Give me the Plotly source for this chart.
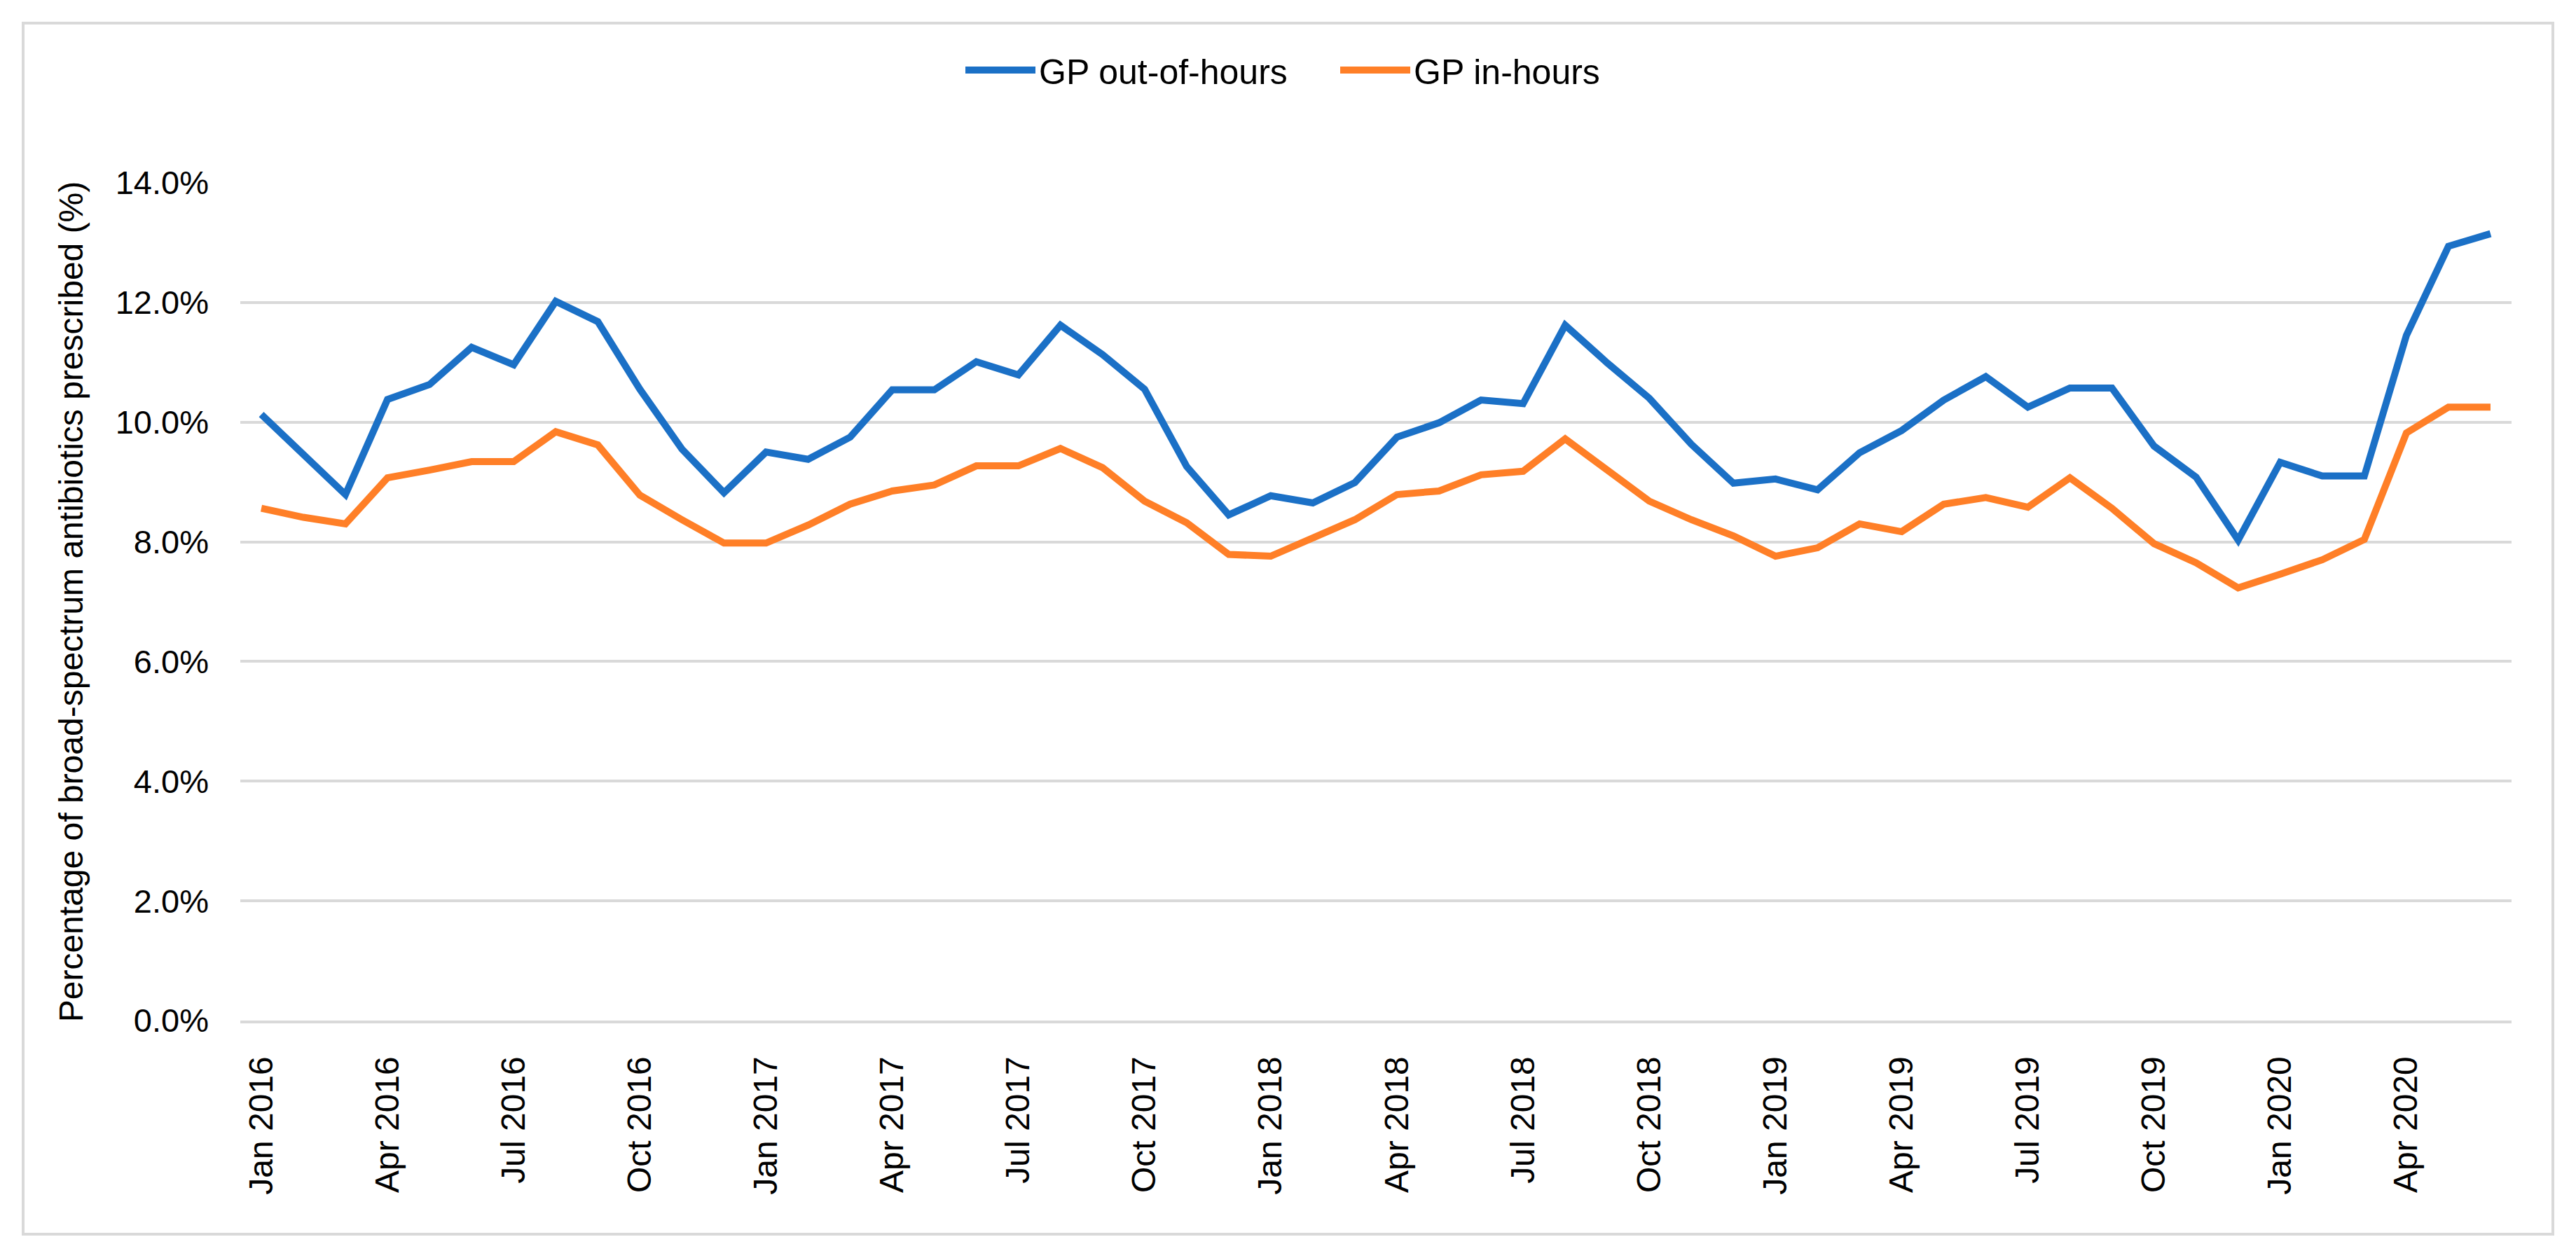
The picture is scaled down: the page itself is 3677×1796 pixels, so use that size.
import plotly.graph_objects as go
import pandas as pd

months = [d.strftime("%b %Y") for d in pd.date_range("2016-01-01", "2020-06-01", freq="MS")]

gp_out_of_hours = [
    10.13, 9.45, 8.79, 10.38, 10.63, 11.25, 10.96, 12.02, 11.68, 10.55, 9.55, 8.82,
    9.50, 9.38, 9.75, 10.54, 10.54, 11.01, 10.79, 11.62, 11.13, 10.55, 9.26, 8.45,
    8.77, 8.65, 8.99, 9.75, 9.99, 10.37, 10.31, 11.62, 10.99, 10.40, 9.63, 8.98,
    9.05, 8.87, 9.49, 9.86, 10.37, 10.76, 10.25, 10.57, 10.57, 9.60, 9.08, 8.03,
    9.33, 9.10, 9.10, 11.45, 12.94, 13.15,
]
gp_in_hours = [
    8.56, 8.41, 8.30, 9.07, 9.20, 9.34, 9.34, 9.84, 9.62, 8.78, 8.37, 7.98,
    7.98, 8.28, 8.63, 8.85, 8.95, 9.27, 9.27, 9.56, 9.24, 8.68, 8.32, 7.79,
    7.76, 8.07, 8.37, 8.79, 8.85, 9.12, 9.18, 9.72, 9.20, 8.68, 8.37, 8.10,
    7.76, 7.90, 8.30, 8.17, 8.63, 8.74, 8.58, 9.07, 8.56, 7.97, 7.65, 7.23,
    7.46, 7.70, 8.04, 9.82, 10.25, 10.25,
]
series_names = ["GP out-of-hours", "GP in-hours"]
series_colors = ["#1B70C6", "#FF7F27"]
y_ticks = [0, 2, 4, 6, 8, 10, 12, 14]
y_title = "Percentage of broad-spectrum antibiotics prescribed (%)"

W, H = 3677, 1796
L, R, T, B = 343, 92, 261, 339
pw, ph = W - L - R, H - T - B
FONT = "Liberation Sans, Arial, sans-serif"

fig = go.Figure()
for name, vals, col in zip(series_names, [gp_out_of_hours, gp_in_hours], series_colors):
    fig.add_trace(go.Scatter(x=months, y=vals, mode="lines", name=name,
                             line=dict(color=col, width=10)))

def px_x(p):
    return (p - L) / pw

def px_y(p):
    return (H - B - p) / ph

fig.update_layout(
    width=W, height=H,
    margin=dict(l=L, r=R, t=T, b=B, pad=0),
    paper_bgcolor="white", plot_bgcolor="white",
    font=dict(family=FONT, size=48, color="black"),
    showlegend=True,
    legend=dict(orientation="h", x=px_x(1373), xanchor="left", y=px_y(100), yanchor="middle",
                font=dict(size=50, family=FONT), itemwidth=100, traceorder="normal",
                entrywidth=420, entrywidthmode="pixels",
                bgcolor="rgba(0,0,0,0)"),
    xaxis=dict(type="category", range=[-0.5, len(months) - 0.5],
               tickmode="array", tickvals=months[::3], ticktext=months[::3],
               tickangle=-90, ticks="", showgrid=False, showline=True,
               linecolor="#D9D9D9", linewidth=4, zeroline=False,
               tickfont=dict(size=48, family=FONT), ticklabelstandoff=28),
    yaxis=dict(range=[0, 14], tickmode="array", tickvals=y_ticks,
               ticktext=[f"{v:.1f}%" for v in y_ticks],
               showgrid=True, gridcolor="#D9D9D9", gridwidth=4, zeroline=False,
               showline=False, ticks="", tickfont=dict(size=47, family=FONT),
               ticklabelstandoff=44,
               title=dict(text=y_title, font=dict(size=48, family=FONT), standoff=30)),
    shapes=[dict(type="rect", xref="paper", yref="paper",
                 x0=px_x(33), x1=px_x(3644), y0=px_y(1762), y1=px_y(33),
                 line=dict(color="#D9D9D9", width=4), fillcolor="rgba(0,0,0,0)", layer="below")],
)

fig.write_html("out.html", config={"displayModeBar": False},
               post_script="document.body.style.margin='0';")
